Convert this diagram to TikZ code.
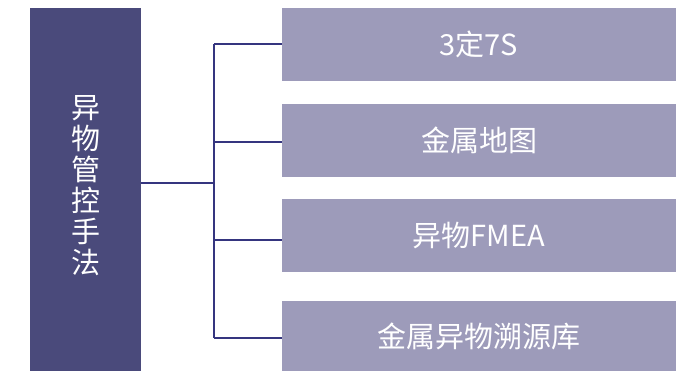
\documentclass[tikz,border=0pt]{standalone}
\usepackage{fontspec}
\setmainfont{Noto Sans CJK SC}
\usetikzlibrary{positioning}
\definecolor{rootfill}{HTML}{4A4A7B}
\definecolor{leaffill}{HTML}{9D9BBA}
\definecolor{linkcol}{HTML}{35357F}

\begin{document}
\begin{tikzpicture}[x=1pt, y=-1pt,
    root/.style={fill=rootfill, text=white, minimum width=111pt, minimum height=363pt,
        inner sep=0pt, align=center, font=\fontsize{29}{31}\selectfont},
    leaf/.style={fill=leaffill, text=white, minimum width=394pt, inner sep=0pt,
        font=\fontsize{29}{31}\selectfont},
    link/.style={draw=linkcol, line width=1.1pt}]
    \useasboundingbox (0,0) rectangle (690,371);

    % Draw nodes
    \node[root] (root) at (85.5,189.5) {};
    \node[text=white, align=center, inner sep=0pt, font=\fontsize{29}{31}\selectfont]
        (roottext) at (85.5,186) {异\\物\\管\\控\\手\\法};
    \node[leaf, minimum height=73pt] (b1) at (479,44.5) {3定7S};
    \node[leaf, minimum height=73pt] (b2) at (479,140.5) {金属地图};
    \node[leaf, minimum height=73pt] (b3) at (479,235.5) {异物FMEA};
    \node[leaf, minimum height=70pt] (b4) at (479,336) {金属异物溯源库};

    % Draw connections
    \coordinate (split) at (214,183);
    \coordinate (j1) at (214,44);
    \coordinate (j2) at (214,142);
    \coordinate (j3) at (214,240);
    \coordinate (j4) at (214,338);
    \draw[link] (root.east |- split) -- (split);
    \draw[link] (j1) -- (j4);
    \draw[link] (j1) -- (j1 -| b1.west);
    \draw[link] (j2) -- (j2 -| b2.west);
    \draw[link] (j3) -- (j3 -| b3.west);
    \draw[link] (j4) -- (j4 -| b4.west);
\end{tikzpicture}
\end{document}
